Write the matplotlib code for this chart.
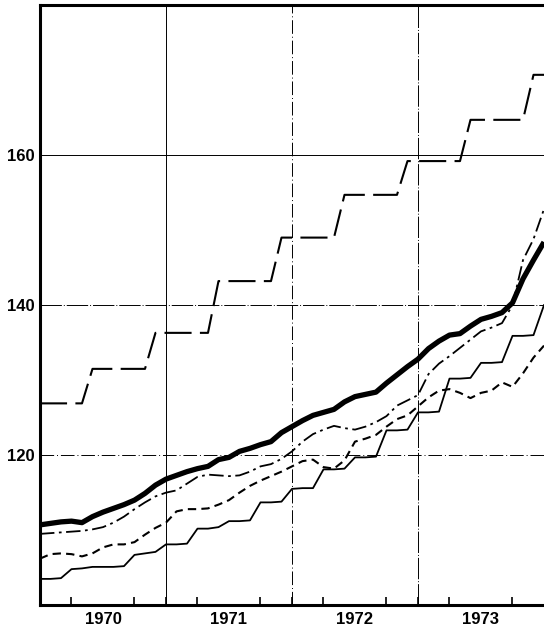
import numpy as np
import matplotlib
matplotlib.use("Agg")
import matplotlib.pyplot as plt
from matplotlib.ticker import FixedLocator, NullFormatter

# monthly index values, Jan 1970 .. Jan 1974
months = np.arange(49)
year_labels = ["1970", "1971", "1972", "1973"]

long_dash = [126.9, 126.9, 126.9, 126.9, 126.9, 131.5, 131.5, 131.5, 131.5, 131.5,
             131.5, 136.3, 136.3, 136.3, 136.3, 136.3, 136.3, 143.2, 143.2, 143.2,
             143.2, 143.2, 143.2, 149.0, 149.0, 149.0, 149.0, 149.0, 149.0, 154.7,
             154.7, 154.7, 154.7, 154.7, 154.7, 159.2, 159.2, 159.2, 159.2, 159.2,
             159.2, 164.7, 164.7, 164.7, 164.7, 164.7, 164.7, 170.7, 170.7]

thick = [110.7, 110.9, 111.1, 111.2, 111.0, 111.8, 112.4, 112.9, 113.4, 114.0,
         114.9, 116.0, 116.8, 117.3, 117.8, 118.2, 118.5, 119.4, 119.7, 120.5,
         120.9, 121.4, 121.8, 123.0, 123.8, 124.6, 125.3, 125.7, 126.1, 127.1,
         127.8, 128.1, 128.4, 129.6, 130.7, 131.8, 132.8, 134.2, 135.2, 136.0,
         136.2, 137.2, 138.1, 138.5, 139.0, 140.3, 143.5, 146.0, 148.4]

dash_dot = [109.5, 109.6, 109.7, 109.8, 109.9, 110.1, 110.4, 111.0, 111.8, 112.8,
            113.7, 114.5, 115.0, 115.3, 116.2, 117.1, 117.4, 117.3, 117.2, 117.3,
            117.8, 118.5, 118.8, 119.5, 120.5, 121.8, 122.8, 123.4, 123.9, 123.6,
            123.4, 123.8, 124.4, 125.2, 126.6, 127.3, 128.0, 130.8, 132.2, 133.2,
            134.3, 135.4, 136.5, 137.0, 137.6, 140.0, 146.0, 148.8, 152.8]

dashed = [106.2, 106.8, 106.9, 106.8, 106.5, 106.9, 107.7, 108.1, 108.1, 108.4,
          109.4, 110.3, 111.0, 112.5, 112.8, 112.8, 112.9, 113.4, 114.0, 115.0,
          115.9, 116.6, 117.2, 117.8, 118.5, 119.2, 119.4, 118.4, 118.2, 119.3,
          121.8, 122.2, 122.7, 123.8, 124.8, 125.3, 126.5, 127.7, 128.6, 128.8,
          128.3, 127.6, 128.3, 128.6, 129.7, 129.1, 130.9, 133.0, 134.6]

steps = [103.5, 103.5, 103.6, 104.8, 104.9, 105.1, 105.1, 105.1, 105.2, 106.7,
         106.9, 107.1, 108.1, 108.1, 108.2, 110.2, 110.2, 110.4, 111.2, 111.2,
         111.3, 113.7, 113.7, 113.8, 115.5, 115.6, 115.6, 118.1, 118.1, 118.2,
         119.7, 119.7, 119.8, 123.3, 123.3, 123.4, 125.7, 125.7, 125.8, 130.2,
         130.2, 130.3, 132.3, 132.3, 132.4, 135.9, 135.9, 136.0, 140.0]

x = 1970 + months / 12.0

fig = plt.figure(figsize=(5.44, 6.33), dpi=100)
ax = fig.add_axes([0.0735, 0.044, 0.9265, 0.948])

# grid lines at year boundaries and every 20 index points
ax.axvline(1971, color="black", lw=0.7)
ax.axvline(1972, color="black", lw=0.7, dashes=[14, 3, 1, 3])
ax.axvline(1973, color="black", lw=0.7, dashes=[22, 2, 1, 2])
ax.axhline(160, color="black", lw=0.7)
ax.axhline(140, color="black", lw=0.7, dashes=[22, 2, 1, 2])
ax.axhline(120, color="black", lw=0.7, dashes=[14, 3, 1, 3])

ax.plot(x, long_dash, color="black", lw=1.5, dashes=[13, 4])
ax.plot(x, thick, color="black", lw=3.8, solid_capstyle="butt")
ax.plot(x, dash_dot, color="black", lw=1.3, dashes=[8, 2.5, 1.5, 2.5])
ax.plot(x, dashed, color="black", lw=1.5, dashes=[4, 2.5])
ax.plot(x, steps, color="black", lw=1.3)

ax.set_xlim(1970, 1974)
ax.set_ylim(100, 180)

for s in ["left", "bottom", "top"]:
    ax.spines[s].set_linewidth(2.2)
ax.spines["right"].set_visible(False)

ax.set_yticks([120, 140, 160])
ax.tick_params(axis="y", length=0, pad=4)

ax.xaxis.set_major_locator(FixedLocator([1970.5, 1971.5, 1972.5, 1973.5]))
ax.set_xticklabels(year_labels)
ax.xaxis.set_minor_locator(FixedLocator([1970 + q / 4 for q in range(1, 16)]))
ax.xaxis.set_minor_formatter(NullFormatter())
ax.tick_params(axis="x", which="major", length=0, pad=5)
ax.tick_params(axis="x", which="minor", direction="in", length=6, width=1.2)

for lab in ax.get_xticklabels() + ax.get_yticklabels():
    lab.set_fontfamily("Liberation Sans")
    lab.set_fontweight("bold")
    lab.set_fontsize(12)

fig.savefig("out.png", dpi=100)
